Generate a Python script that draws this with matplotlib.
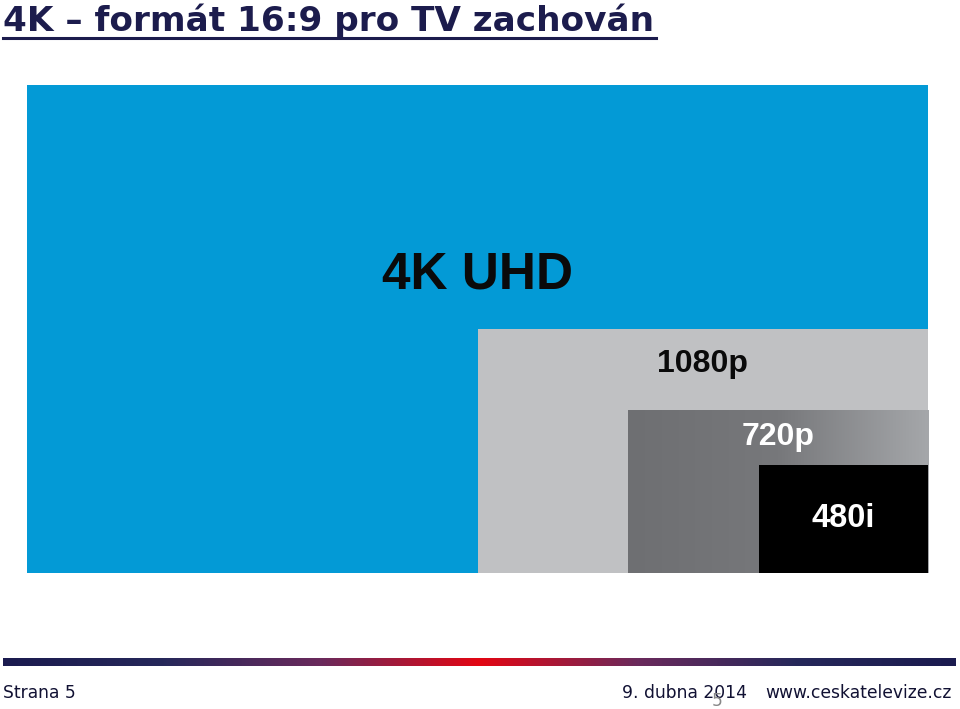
import matplotlib
matplotlib.use("Agg")
import matplotlib.pyplot as plt
import numpy as np
from matplotlib.colors import LinearSegmentedColormap
from matplotlib.lines import Line2D

# resolutions (pixels)
names = ["4K UHD", "1080p", "720p", "480i"]
widths = [3840, 1920, 1280, 720]
heights = [2160, 1080, 720, 480]
label_pos = [0.61, 0.855, 0.835, 0.5]   # label height as fraction of each rectangle

fig = plt.figure(figsize=(9.6, 7.09), dpi=100)
fig.patch.set_facecolor("white")

ax = fig.add_axes([27 / 960, 136 / 709, 901 / 960, 488 / 709])
ax.set_xlim(0, widths[0])
ax.set_ylim(0, heights[0])
ax.axis("off")

colors = ["#039ad6", "#c0c1c3", "none", "#000000"]
text_colors = ["#0a0a0a", "#0a0a0a", "white", "white"]
sizes = [37, 23, 23, 23.5]

for i, (n, w, h) in enumerate(zip(names, widths, heights)):
    x0 = widths[0] - w
    if i == 2:
        # 720p has a gray gradient
        cmap = LinearSegmentedColormap.from_list("g", ["#6e6f72", "#77787b", "#a5a7aa"])
        grad = np.linspace(0, 1, 256).reshape(1, -1)
        ax.imshow(grad, cmap=cmap, extent=(x0, widths[0], 0, h), aspect="auto", zorder=i + 1)
    else:
        ax.bar(x0, h, width=w, align="edge", color=colors[i], zorder=i + 1)
    ax.text(x0 + w / 2, h * label_pos[i], n, ha="center", va="center",
            fontsize=sizes[i], fontweight="bold", family="Liberation Sans",
            color=text_colors[i], zorder=10)

# title
fig.text(3 / 960, 1 - 21 / 709, "4K \u2013 formát 16:9 pro TV zachován", fontsize=24.7,
         fontweight="bold", color="#1c1c4d", ha="left", va="center", family="DejaVu Sans")
fig.add_artist(Line2D([3 / 960, 656 / 960], [1 - 38 / 709, 1 - 38 / 709], color="#1c1c4d", lw=2.2))

# footer bar with gradient
bar_ax = fig.add_axes([3 / 960, 1 - 666 / 709, 952 / 960, 8 / 709])
bar_cmap = LinearSegmentedColormap.from_list("f", ["#1b1b4f", "#26285a", "#6a2a5c", "#e30613", "#6a2a5c", "#26285a", "#1b1b4f"])
bar_ax.imshow(np.linspace(0, 1, 512).reshape(1, -1), cmap=bar_cmap, aspect="auto")
bar_ax.axis("off")

fig.text(3 / 960, 1 - 693 / 709, "Strana 5", fontsize=12.3, color="#111133", ha="left", va="center")
fig.text(622 / 960, 1 - 693 / 709, "9. dubna 2014", fontsize=12.3, color="#111133", ha="left", va="center")
fig.text(952 / 960, 1 - 693 / 709, "www.ceskatelevize.cz", fontsize=12.3, color="#111133", ha="right", va="center")
fig.text(717 / 960, 1 - 701 / 709, "5", fontsize=12.3, color="#888888", ha="center", va="center")

fig.savefig("out.png", dpi=100)
